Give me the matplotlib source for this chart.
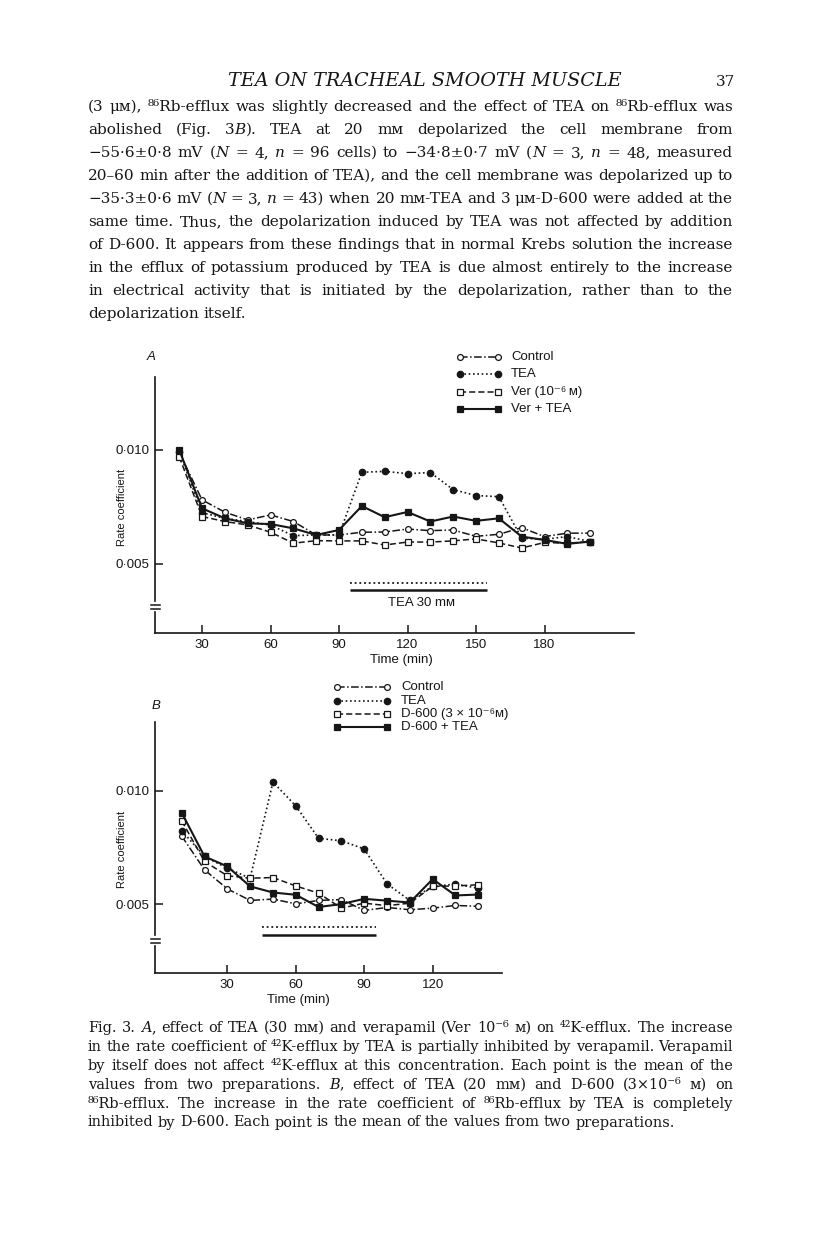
import matplotlib
matplotlib.use('Agg')
import matplotlib.pyplot as plt

W, H = 816, 1243
INK = '#161616'
SERIF = ['DejaVu Serif']
SANS = ['Liberation Sans', 'DejaVu Sans']

# ---- Fig. 3A data (42K-efflux) ----
TIME_A = [20, 30, 40, 50, 60, 70, 80, 90, 100, 110, 120, 130, 140, 150, 160, 170, 180, 190, 200]
CONTROL_A = [0.0099, 0.00781, 0.00727, 0.00693, 0.00715, 0.00686, 0.00627, 0.00627, 0.00639, 0.00640,
             0.00653, 0.00646, 0.00649, 0.00621, 0.00630, 0.00659, 0.00620, 0.00635, 0.00635]
TEA_A = [0.00993, 0.00725, 0.00700, 0.00686, 0.00670, 0.00624, 0.00627, 0.00627, 0.00902, 0.00906,
         0.00896, 0.00901, 0.00826, 0.00800, 0.00795, 0.00613, 0.00608, 0.00620, 0.00598]
VER_A = [0.0097, 0.00708, 0.00686, 0.00671, 0.00639, 0.00591, 0.00602, 0.00601, 0.00601, 0.00583,
         0.00596, 0.00596, 0.00601, 0.00610, 0.00592, 0.00570, 0.00594, 0.00591, 0.00598]
VER_TEA_A = [0.0100, 0.00744, 0.00700, 0.00678, 0.00675, 0.00656, 0.00627, 0.00649, 0.00754, 0.00705,
             0.00728, 0.00686, 0.00708, 0.00689, 0.00700, 0.00620, 0.00605, 0.00588, 0.00598]
TEA_PERIOD_A = (95, 155)

# ---- Fig. 3B data (86Rb-efflux) ----
TIME_B = [10, 20, 30, 40, 50, 60, 70, 80, 90, 100, 110, 120, 130, 140]
CONTROL_B = [0.0080, 0.00651, 0.00567, 0.00516, 0.00522, 0.00501, 0.00516, 0.00520, 0.00472, 0.00485,
             0.00475, 0.00482, 0.00494, 0.00490]
TEA_B = [0.00824, 0.0071, 0.00658, 0.00614, 0.01038, 0.00933, 0.0079, 0.00779, 0.00743, 0.00589,
         0.00516, 0.00578, 0.00588, 0.0057]
D600_B = [0.00867, 0.00688, 0.00625, 0.00614, 0.00617, 0.0058, 0.00548, 0.00482, 0.00504, 0.00493,
          0.00504, 0.00578, 0.0058, 0.00585]
D600_TEA_B = [0.00903, 0.0071, 0.00666, 0.00578, 0.00551, 0.00541, 0.00487, 0.0050, 0.00523, 0.00515,
              0.00507, 0.0061, 0.00538, 0.00542]
TEA_PERIOD_B = (45, 95)

LABELS_A = ['Control', 'TEA', 'Ver (10\u207b\u2076\u2009\u043c)', 'Ver + TEA']
LABELS_B = ['Control', 'TEA', 'D-600 (3 \u00d7 10\u207b\u2076\u043c)', 'D-600 + TEA']
YTICKS = [0.005, 0.010]
YTICKLABELS = ['0\u00b7005', '0\u00b7010']

STYLES = [
    dict(ls=(0, (5, 1.6, 1, 1.6)), marker='o', mfc='white', ms=4.2, lw=1.1),
    dict(ls=(0, (1, 1.6)), marker='o', mfc=INK, ms=4.6, lw=1.2),
    dict(ls=(0, (4, 2)), marker='s', mfc='white', ms=3.8, lw=1.1),
    dict(ls='-', marker='s', mfc=INK, ms=4.0, lw=1.5),
]

fig = plt.figure(figsize=(W / 100, H / 100), dpi=100, facecolor='white')
pg = fig.add_axes([0, 0, 1, 1], facecolor='none')
pg.set_xlim(0, W)
pg.set_ylim(H, 0)
pg.axis('off')


def px_axes(x0, x1, ytop, ybot):
    return fig.add_axes([x0 / W, 1 - ybot / H, (x1 - x0) / W, (ybot - ytop) / H], facecolor='none')


def chart(box, t, series, xlim, ylim, xticks, period, bar_y, brk):
    x0, x1, ytop, ybot = box
    ax = px_axes(*box)
    for vals, st in zip(series, STYLES):
        ax.plot(t, vals, color=INK, mec=INK, mew=0.9, clip_on=False, **st)
    ax.hlines(bar_y[0], *period, color=INK, lw=1.3, linestyles=(0, (1, 1.6)))
    ax.hlines(bar_y[1], *period, color=INK, lw=1.8)
    ax.set_xlim(*xlim)
    ax.set_ylim(*ylim)
    ax.set_xticks(xticks)
    ax.set_xticklabels([str(v) for v in xticks], family=SANS, fontsize=9.5, color=INK)
    ax.set_yticks(YTICKS)
    ax.set_yticklabels(YTICKLABELS, family=SANS, fontsize=9.5, color=INK)
    ax.tick_params(direction='in', length=6, width=1.1, color=INK, pad=4)
    for s in ['top', 'right', 'left']:
        ax.spines[s].set_visible(False)
    ax.spines['bottom'].set_linewidth(1.2)
    ax.spines['bottom'].set_color(INK)
    # broken y axis
    pg.plot([x0, x0], [ytop, brk - 4], color=INK, lw=1.2)
    pg.plot([x0, x0], [brk + 7, ybot], color=INK, lw=1.2)
    for yy in (brk, brk + 4):
        pg.plot([x0 - 4, x0 + 5], [yy, yy], color=INK, lw=1.1)
    pg.text(x0 - 33, (ytop + ybot) / 2 + 2, 'Rate coefficient', rotation=90, family=SANS,
            fontsize=8, color=INK, ha='center', va='center')
    return ax


def legend(x0, x1, xt, rows, labels):
    for y, lab, st in zip(rows, labels, STYLES):
        pg.plot([x0, x1], [y, y], color=INK, mec=INK, mew=0.9, **st)
        pg.text(xt, y, lab, family=SANS, fontsize=9.5, color=INK, va='center', ha='left')


# ===== A =====
axA = chart((155, 634, 377, 633), TIME_A, [CONTROL_A, TEA_A, VER_A, VER_TEA_A],
            (9.4, 219.2), (0.00197, 0.0132), [30, 60, 90, 120, 150, 180],
            TEA_PERIOD_A, (0.00418, 0.00386), 605)
axA.text(sum(TEA_PERIOD_A) / 2 + 1, 0.00329, 'TEA 30 m\u043c', family=SANS, fontsize=9.5,
         color=INK, ha='center', va='center')
pg.text(151, 357, 'A', family=SANS, style='italic', fontsize=9.5, color=INK, ha='center', va='center')
pg.text(401, 660, 'Time (min)', family=SANS, fontsize=9.5, color=INK, ha='center', va='center')
legend(460, 498, 511, [357, 374, 392, 409], LABELS_A)

# ===== B =====
axB = chart((155, 502, 722, 973), TIME_B, [CONTROL_B, TEA_B, D600_B, D600_TEA_B],
            (-1.7, 150.4), (0.00196, 0.01303), [30, 60, 90, 120],
            TEA_PERIOD_B, (0.00399, 0.00362), 939)
pg.text(156, 706, 'B', family=SANS, style='italic', fontsize=9.5, color=INK, ha='center', va='center')
pg.text(298, 1000, 'Time (min)', family=SANS, fontsize=9.5, color=INK, ha='center', va='center')
legend(337, 387, 401, [687, 701, 714, 727], LABELS_B)

# ===== page text =====
BODY = [
    '(3 \u03bc\u043c), \u2078\u2076Rb-efflux was slightly decreased and the effect of TEA on \u2078\u2076Rb-efflux was',
    'abolished (Fig. 3{B}). TEA at 20 m\u043c depolarized the cell membrane from',
    '\u221255\u00b76\u00b10\u00b78 mV ({N} = 4, {n} = 96 cells) to \u221234\u00b78\u00b10\u00b77 mV ({N} = 3, {n} = 48, measured',
    '20\u201360 min after the addition of TEA), and the cell membrane was depolarized up to',
    '\u221235\u00b73\u00b10\u00b76 mV ({N} = 3, {n} = 43) when 20 m\u043c-TEA and 3 \u03bc\u043c-D-600 were added at the',
    'same time. Thus, the depolarization induced by TEA was not affected by addition',
    'of D-600. It appears from these findings that in normal Krebs solution the increase',
    'in the efflux of potassium produced by TEA is due almost entirely to the increase',
    'in electrical activity that is initiated by the depolarization, rather than to the',
    'depolarization itself.',
]
CAPTION = [
    'Fig. 3. {A}, effect of TEA (30 m\u043c) and verapamil (Ver 10\u207b\u2076 \u043c) on \u2074\u00b2K-efflux. The increase',
    'in the rate coefficient of \u2074\u00b2K-efflux by TEA is partially inhibited by verapamil. Verapamil',
    'by itself does not affect \u2074\u00b2K-efflux at this concentration. Each point is the mean of the',
    'values from two preparations. {B}, effect of TEA (20 m\u043c) and D-600 (3\u00d710\u207b\u2076 \u043c) on',
    '\u2078\u2076Rb-efflux. The increase in the rate coefficient of \u2078\u2076Rb-efflux by TEA is completely',
    'inhibited by D-600. Each point is the mean of the values from two preparations.',
]

rend = fig.canvas.get_renderer()
X0, X1 = 88, 733


def segments(word):
    out, ital, buf = [], False, ''
    for ch in word:
        if ch in '{}':
            if buf:
                out.append((buf, ital))
            buf, ital = '', ch == '{'
        else:
            buf += ch
    if buf:
        out.append((buf, ital))
    return out


def wwidth(parts):
    return sum(t.get_window_extent(rend).width for t in parts)


def paragraph(lines, y0, dy, base=10, space=0.3):
    objs = []
    for i, line in enumerate(lines):
        words = [[pg.text(0, y0 + i * dy, s, fontsize=base, family=SERIF,
                          style='italic' if it else 'normal', va='baseline', ha='left', color=INK)
                  for s, it in segments(w)] for w in line.split()]
        objs.append(words)
    # scale font so the tightest justified line just fills the measure
    nat = max(sum(wwidth(p) for p in words) + (len(words) - 1) * space * base * 100 / 72
              for words in objs[:-1])
    size = base * (X1 - X0) / nat
    for words in objs:
        for p in words:
            for t in p:
                t.set_fontsize(size)
    for i, words in enumerate(objs):
        widths = [wwidth(p) for p in words]
        if i < len(objs) - 1:
            gap = (X1 - X0 - sum(widths)) / (len(words) - 1)
        else:
            gap = space * size * 100 / 72
        x = X0
        for p, w in zip(words, widths):
            for t in p:
                t.set_x(x)
                x += t.get_window_extent(rend).width
            x += gap


hdr = pg.text(425, 86, 'TEA ON TRACHEAL SMOOTH MUSCLE', family=SERIF, style='italic',
              fontsize=10, color=INK, ha='center', va='baseline')
hdr.set_fontsize(10 * 394 / hdr.get_window_extent(rend).width)
pg.text(735, 86, '37', family=SERIF, fontsize=11, color=INK, ha='right', va='baseline')

paragraph(BODY, 111, 23)
paragraph(CAPTION, 1032, 18.9)

fig.savefig('out.png', dpi=100, facecolor='white')
